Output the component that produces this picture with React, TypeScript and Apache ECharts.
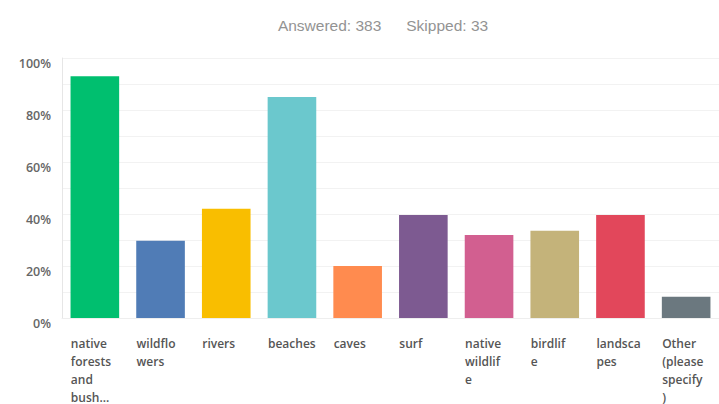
import React, { useEffect, useRef } from "react";
import * as echarts from "echarts";

const categories = [
  "native forests and bush...",
  "wildflowers",
  "rivers",
  "beaches",
  "caves",
  "surf",
  "native wildlife",
  "birdlife",
  "landscapes",
  "Other (please specify)",
];
const tickLabels = [
  "native\nforests\nand\nbush...",
  "wildflo\nwers",
  "rivers",
  "beaches",
  "caves",
  "surf",
  "native\nwildlif\ne",
  "birdlif\ne",
  "landsca\npes",
  "Other\n(please\nspecify\n)",
];
const values = [93, 29.7, 42, 85, 20, 39.6, 31.9, 33.6, 39.6, 8.2];
const barColors = [
  "#00bf6f",
  "#507cb6",
  "#f9be00",
  "#6bc8cd",
  "#ff8b4f",
  "#7d5a91",
  "#d25f90",
  "#c4b37a",
  "#e2475b",
  "#6b787f",
];
const answeredText = "Answered: 383";
const skippedText = "Skipped: 33";

export default function App() {
  const ref = useRef<HTMLDivElement>(null);
  useEffect(() => {
    if (!ref.current) return;
    const chart = echarts.init(ref.current, undefined, { renderer: "svg" });
    chart.setOption({
      animation: false,
      backgroundColor: "#ffffff",
      title: {
        text: "{a|" + answeredText + "}{gap|}{a|" + skippedText + "}",
        left: 378,
        textAlign: "center",
        top: 11,
        textStyle: {
          fontWeight: "normal",
          rich: {
            a: {
              fontFamily: "Liberation Sans, Arial, sans-serif",
              fontSize: 15.5,
              fontWeight: "normal",
              color: "#939393",
            },
            gap: { width: 25 },
          },
        },
      },
      grid: { left: 62, top: 58, width: 661, bottom: 86 },
      xAxis: {
        type: "category",
        data: categories,
        axisLine: { show: true, lineStyle: { color: "#eeeeee" } },
        axisTick: { show: false },
        axisLabel: {
          interval: 0,
          margin: 16,
          formatter: (_v: string, i: number) =>
            "{a|" + tickLabels[i].split("\n").join("}\n{a|") + "}",
          rich: {
            a: {
              width: 48,
              align: "left",
              fontFamily: "Open Sans, sans-serif",
              fontSize: 12,
              fontWeight: 600,
              color: "#555555",
              lineHeight: 18,
            },
          },
        },
      },
      yAxis: {
        type: "value",
        min: 0,
        max: 100,
        interval: 10,
        axisLine: { show: true, lineStyle: { color: "#e6e6e6" } },
        axisTick: { show: false },
        splitLine: { show: true, lineStyle: { color: "#f2f2f2" } },
        axisLabel: {
          formatter: (v: number) => (v % 20 === 0 ? v + "%" : ""),
          fontFamily: "Open Sans, sans-serif",
          fontSize: 12.5,
          fontWeight: 600,
          color: "#666666",
          margin: 11,
          verticalAlign: "top",
          lineHeight: 10,
        },
      },
      series: [
        {
          type: "bar",
          data: values.map((v, i) => ({ value: v, itemStyle: { color: barColors[i] } })),
          barWidth: "74%",
        },
      ],
    });
    return () => chart.dispose();
  }, []);
  return (
    <div
      ref={ref}
      style={{ position: "fixed", left: 0, top: 0, width: 719, height: 404 }}
    />
  );
}
